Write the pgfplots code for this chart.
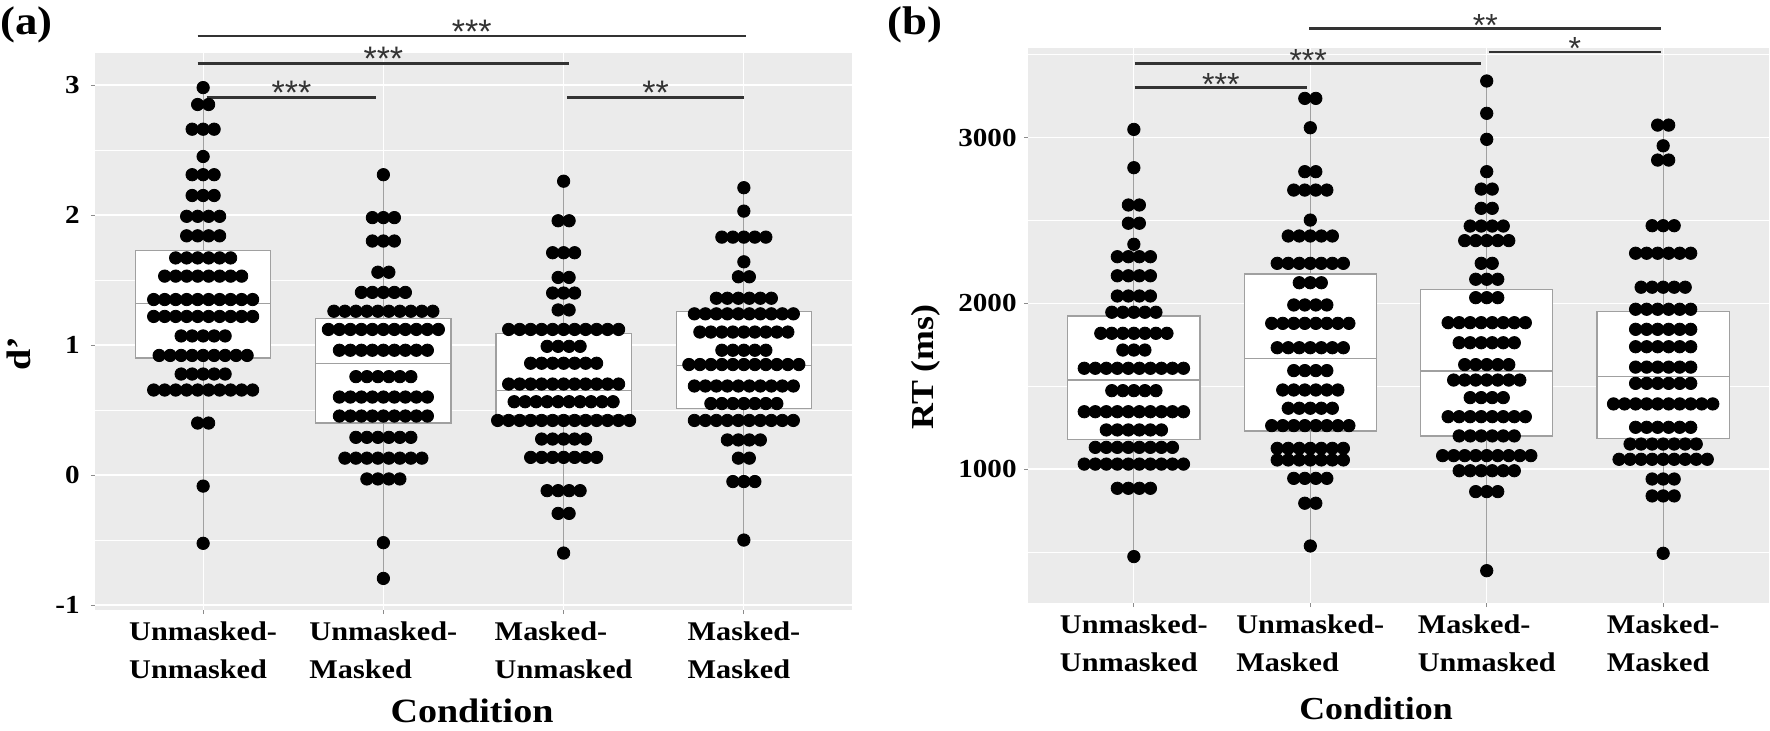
\documentclass[border=0pt]{standalone}
\usepackage{fontspec}
\setmainfont{Liberation Serif}[FakeStretch=1.12]
\newfontfamily\starfont{Liberation Sans}
\usepackage{pgfplots}
\pgfplotsset{compat=1.18}
\usepackage{pgfplotstable}

\definecolor{panel}{HTML}{EBEBEB}
\definecolor{boxline}{HTML}{A0A0A0}
\definecolor{sigline}{HTML}{333333}

\pgfplotsset{
  ggpanel/.style={
    scale only axis, anchor=south west, clip=false,
    xmin=0.4, xmax=4.6, xtick={1,2,3,4},
    xticklabels={{Unmasked-\\Unmasked},{Unmasked-\\Masked},{Masked-\\Unmasked},{Masked-\\Masked}},
    axis background/.style={fill=panel},
    axis line style={draw=none},
    grid=both, minor x tick num=0,
    major grid style={white, line width=0.6pt},
    minor grid style={white, line width=0.3pt},
    tick align=outside, major tick length=2pt, minor tick length=0pt,
    tick style={black!45, line width=0.5pt},
    xtick pos=bottom, ytick pos=left,
    x tick label style={font=\bfseries\fontsize{13.5}{19}\selectfont, align=left, anchor=north, inner sep=0pt, yshift=-3.5pt},
    y tick label style={font=\bfseries\fontsize{13}{15}\selectfont, anchor=east, inner sep=0pt},
  },
  dots/.style={only marks, mark=*, mark size=3.1pt, mark options={draw=black, fill=black}},
  bx/.style={draw=boxline, line width=0.6pt, solid, mark=none},
  sig/.style={draw=sigline, line width=1.3pt, mark=none},
}
\tikzset{
  stars/.style={anchor=base, inner sep=0pt, text=sigline, font=\starfont\fontsize{17}{17}\selectfont},
}

% d' : offset k (in dot widths) and value v
\pgfplotstableread[row sep=\\]{
k v\\
0 2.98\\
-0.5 2.85\\ 0.5 2.85\\
-1 2.66\\ 0 2.66\\ 1 2.66\\
0 2.45\\
-1 2.31\\ 0 2.31\\ 1 2.31\\
-1 2.15\\ 0 2.15\\ 1 2.15\\
-1.5 1.99\\ -0.5 1.99\\ 0.5 1.99\\ 1.5 1.99\\
-1.5 1.84\\ -0.5 1.84\\ 0.5 1.84\\ 1.5 1.84\\
-2.5 1.67\\ -1.5 1.67\\ -0.5 1.67\\ 0.5 1.67\\ 1.5 1.67\\ 2.5 1.67\\
-3.5 1.53\\ -2.5 1.53\\ -1.5 1.53\\ -0.5 1.53\\ 0.5 1.53\\ 1.5 1.53\\ 2.5 1.53\\ 3.5 1.53\\
-4.5 1.35\\ -3.5 1.35\\ -2.5 1.35\\ -1.5 1.35\\ -0.5 1.35\\ 0.5 1.35\\ 1.5 1.35\\ 2.5 1.35\\ 3.5 1.35\\ 4.5 1.35\\
-4.5 1.22\\ -3.5 1.22\\ -2.5 1.22\\ -1.5 1.22\\ -0.5 1.22\\ 0.5 1.22\\ 1.5 1.22\\ 2.5 1.22\\ 3.5 1.22\\ 4.5 1.22\\
-2 1.07\\ -1 1.07\\ 0 1.07\\ 1 1.07\\ 2 1.07\\
-4 0.92\\ -3 0.92\\ -2 0.92\\ -1 0.92\\ 0 0.92\\ 1 0.92\\ 2 0.92\\ 3 0.92\\ 4 0.92\\
-2 0.777\\ -1 0.777\\ 0 0.777\\ 1 0.777\\ 2 0.777\\
-4.5 0.654\\ -3.5 0.654\\ -2.5 0.654\\ -1.5 0.654\\ -0.5 0.654\\ 0.5 0.654\\ 1.5 0.654\\ 2.5 0.654\\ 3.5 0.654\\ 4.5 0.654\\
-0.5 0.40\\ 0.5 0.40\\
0 -0.085\\
0 -0.525\\
}\daA

\pgfplotstableread[row sep=\\]{
k v\\
0 2.31\\
-1 1.98\\ 0 1.98\\ 1 1.98\\
-1 1.80\\ 0 1.80\\ 1 1.80\\
-0.5 1.56\\ 0.5 1.56\\
-2 1.405\\ -1 1.405\\ 0 1.405\\ 1 1.405\\ 2 1.405\\
-4.5 1.26\\ -3.5 1.26\\ -2.5 1.26\\ -1.5 1.26\\ -0.5 1.26\\ 0.5 1.26\\ 1.5 1.26\\ 2.5 1.26\\ 3.5 1.26\\ 4.5 1.26\\
-5 1.12\\ -4 1.12\\ -3 1.12\\ -2 1.12\\ -1 1.12\\ 0 1.12\\ 1 1.12\\ 2 1.12\\ 3 1.12\\ 4 1.12\\ 5 1.12\\
-4 0.96\\ -3 0.96\\ -2 0.96\\ -1 0.96\\ 0 0.96\\ 1 0.96\\ 2 0.96\\ 3 0.96\\ 4 0.96\\
-2.5 0.757\\ -1.5 0.757\\ -0.5 0.757\\ 0.5 0.757\\ 1.5 0.757\\ 2.5 0.757\\
-4 0.60\\ -3 0.60\\ -2 0.60\\ -1 0.60\\ 0 0.60\\ 1 0.60\\ 2 0.60\\ 3 0.60\\ 4 0.60\\
-4 0.454\\ -3 0.454\\ -2 0.454\\ -1 0.454\\ 0 0.454\\ 1 0.454\\ 2 0.454\\ 3 0.454\\ 4 0.454\\
-2.5 0.29\\ -1.5 0.29\\ -0.5 0.29\\ 0.5 0.29\\ 1.5 0.29\\ 2.5 0.29\\
-3.5 0.13\\ -2.5 0.13\\ -1.5 0.13\\ -0.5 0.13\\ 0.5 0.13\\ 1.5 0.13\\ 2.5 0.13\\ 3.5 0.13\\
-1.5 -0.03\\ -0.5 -0.03\\ 0.5 -0.03\\ 1.5 -0.03\\
0 -0.52\\
0 -0.795\\
}\daB

\pgfplotstableread[row sep=\\]{
k v\\
0 2.26\\
-0.5 1.956\\ 0.5 1.956\\
-1 1.71\\ 0 1.71\\ 1 1.71\\
-0.5 1.52\\ 0.5 1.52\\
-1 1.40\\ 0 1.40\\ 1 1.40\\
-0.5 1.27\\ 0.5 1.27\\
-5 1.12\\ -4 1.12\\ -3 1.12\\ -2 1.12\\ -1 1.12\\ 0 1.12\\ 1 1.12\\ 2 1.12\\ 3 1.12\\ 4 1.12\\ 5 1.12\\
-1.5 0.99\\ -0.5 0.99\\ 0.5 0.99\\ 1.5 0.99\\
-3 0.86\\ -2 0.86\\ -1 0.86\\ 0 0.86\\ 1 0.86\\ 2 0.86\\ 3 0.86\\
-5 0.70\\ -4 0.70\\ -3 0.70\\ -2 0.70\\ -1 0.70\\ 0 0.70\\ 1 0.70\\ 2 0.70\\ 3 0.70\\ 4 0.70\\ 5 0.70\\
-4.5 0.564\\ -3.5 0.564\\ -2.5 0.564\\ -1.5 0.564\\ -0.5 0.564\\ 0.5 0.564\\ 1.5 0.564\\ 2.5 0.564\\ 3.5 0.564\\ 4.5 0.564\\
-6 0.42\\ -5 0.42\\ -4 0.42\\ -3 0.42\\ -2 0.42\\ -1 0.42\\ 0 0.42\\ 1 0.42\\ 2 0.42\\ 3 0.42\\ 4 0.42\\ 5 0.42\\ 6 0.42\\
-2 0.277\\ -1 0.277\\ 0 0.277\\ 1 0.277\\ 2 0.277\\
-3 0.136\\ -2 0.136\\ -1 0.136\\ 0 0.136\\ 1 0.136\\ 2 0.136\\ 3 0.136\\
-1.5 -0.12\\ -0.5 -0.12\\ 0.5 -0.12\\ 1.5 -0.12\\
-0.5 -0.295\\ 0.5 -0.295\\
0 -0.60\\
}\daC

\pgfplotstableread[row sep=\\]{
k v\\
0 2.21\\
0 2.03\\
-2 1.83\\ -1 1.83\\ 0 1.83\\ 1 1.83\\ 2 1.83\\
0 1.64\\
-0.5 1.525\\ 0.5 1.525\\
-2.5 1.36\\ -1.5 1.36\\ -0.5 1.36\\ 0.5 1.36\\ 1.5 1.36\\ 2.5 1.36\\
-4.5 1.24\\ -3.5 1.24\\ -2.5 1.24\\ -1.5 1.24\\ -0.5 1.24\\ 0.5 1.24\\ 1.5 1.24\\ 2.5 1.24\\ 3.5 1.24\\ 4.5 1.24\\
-4 1.10\\ -3 1.10\\ -2 1.10\\ -1 1.10\\ 0 1.10\\ 1 1.10\\ 2 1.10\\ 3 1.10\\ 4 1.10\\
-2 0.96\\ -1 0.96\\ 0 0.96\\ 1 0.96\\ 2 0.96\\
-5 0.85\\ -4 0.85\\ -3 0.85\\ -2 0.85\\ -1 0.85\\ 0 0.85\\ 1 0.85\\ 2 0.85\\ 3 0.85\\ 4 0.85\\ 5 0.85\\
-4.5 0.685\\ -3.5 0.685\\ -2.5 0.685\\ -1.5 0.685\\ -0.5 0.685\\ 0.5 0.685\\ 1.5 0.685\\ 2.5 0.685\\ 3.5 0.685\\ 4.5 0.685\\
-3 0.55\\ -2 0.55\\ -1 0.55\\ 0 0.55\\ 1 0.55\\ 2 0.55\\ 3 0.55\\
-4.5 0.42\\ -3.5 0.42\\ -2.5 0.42\\ -1.5 0.42\\ -0.5 0.42\\ 0.5 0.42\\ 1.5 0.42\\ 2.5 0.42\\ 3.5 0.42\\ 4.5 0.42\\
-1.5 0.27\\ -0.5 0.27\\ 0.5 0.27\\ 1.5 0.27\\
-0.5 0.13\\ 0.5 0.13\\
-1 -0.05\\ 0 -0.05\\ 1 -0.05\\
0 -0.50\\
}\daD

% RT (ms)
\pgfplotstableread[row sep=\\]{
k v\\
0 3049\\
0 2818\\
-0.5 2593\\ 0.5 2593\\
-0.5 2483\\ 0.5 2483\\
0 2356\\
-1.5 2281\\ -0.5 2281\\ 0.5 2281\\ 1.5 2281\\
-1.5 2166\\ -0.5 2166\\ 0.5 2166\\ 1.5 2166\\
-1.5 2044\\ -0.5 2044\\ 0.5 2044\\ 1.5 2044\\
-2 1946\\ -1 1946\\ 0 1946\\ 1 1946\\ 2 1946\\
-3 1819\\ -2 1819\\ -1 1819\\ 0 1819\\ 1 1819\\ 2 1819\\ 3 1819\\
-1 1718\\ 0 1718\\ 1 1718\\
-4.5 1608\\ -3.5 1608\\ -2.5 1608\\ -1.5 1608\\ -0.5 1608\\ 0.5 1608\\ 1.5 1608\\ 2.5 1608\\ 3.5 1608\\ 4.5 1608\\
-2 1473\\ -1 1473\\ 0 1473\\ 1 1473\\ 2 1473\\
-4.5 1346\\ -3.5 1346\\ -2.5 1346\\ -1.5 1346\\ -0.5 1346\\ 0.5 1346\\ 1.5 1346\\ 2.5 1346\\ 3.5 1346\\ 4.5 1346\\
-2.5 1236\\ -1.5 1236\\ -0.5 1236\\ 0.5 1236\\ 1.5 1236\\ 2.5 1236\\
-3.5 1131\\ -2.5 1131\\ -1.5 1131\\ -0.5 1131\\ 0.5 1131\\ 1.5 1131\\ 2.5 1131\\ 3.5 1131\\
-4.5 1030\\ -3.5 1030\\ -2.5 1030\\ -1.5 1030\\ -0.5 1030\\ 0.5 1030\\ 1.5 1030\\ 2.5 1030\\ 3.5 1030\\ 4.5 1030\\
-1.5 884\\ -0.5 884\\ 0.5 884\\ 1.5 884\\
0 472\\
}\dbA

\pgfplotstableread[row sep=\\]{
k v\\
-0.5 3236\\ 0.5 3236\\
0 3059\\
-0.5 2794\\ 0.5 2794\\
-1.5 2683\\ -0.5 2683\\ 0.5 2683\\ 1.5 2683\\
0 2502\\
-2 2406\\ -1 2406\\ 0 2406\\ 1 2406\\ 2 2406\\
-3 2241\\ -2 2241\\ -1 2241\\ 0 2241\\ 1 2241\\ 2 2241\\ 3 2241\\
-1 2124\\ 0 2124\\ 1 2124\\
-1.5 1990\\ -0.5 1990\\ 0.5 1990\\ 1.5 1990\\
-3.5 1879\\ -2.5 1879\\ -1.5 1879\\ -0.5 1879\\ 0.5 1879\\ 1.5 1879\\ 2.5 1879\\ 3.5 1879\\
-3 1732\\ -2 1732\\ -1 1732\\ 0 1732\\ 1 1732\\ 2 1732\\ 3 1732\\
-1.5 1594\\ -0.5 1594\\ 0.5 1594\\ 1.5 1594\\
-2.5 1477\\ -1.5 1477\\ -0.5 1477\\ 0.5 1477\\ 1.5 1477\\ 2.5 1477\\
-2 1367\\ -1 1367\\ 0 1367\\ 1 1367\\ 2 1367\\
-3.5 1262\\ -2.5 1262\\ -1.5 1262\\ -0.5 1262\\ 0.5 1262\\ 1.5 1262\\ 2.5 1262\\ 3.5 1262\\
-3 1125\\ -2 1125\\ -1 1125\\ 0 1125\\ 1 1125\\ 2 1125\\ 3 1125\\
-3 1055\\ -2 1055\\ -1 1055\\ 0 1055\\ 1 1055\\ 2 1055\\ 3 1055\\
-1.5 944\\ -0.5 944\\ 0.5 944\\ 1.5 944\\
-0.5 794\\ 0.5 794\\
0 536\\
}\dbB

\pgfplotstableread[row sep=\\]{
k v\\
0 3341\\
0 3146\\
0 2989\\
0 2794\\
-0.5 2689\\ 0.5 2689\\
-0.5 2573\\ 0.5 2573\\
-1.5 2466\\ -0.5 2466\\ 0.5 2466\\ 1.5 2466\\
-2 2378\\ -1 2378\\ 0 2378\\ 1 2378\\ 2 2378\\
-0.5 2241\\ 0.5 2241\\
-1 2145\\ 0 2145\\ 1 2145\\
-1 2034\\ 0 2034\\ 1 2034\\
-3.5 1883\\ -2.5 1883\\ -1.5 1883\\ -0.5 1883\\ 0.5 1883\\ 1.5 1883\\ 2.5 1883\\ 3.5 1883\\
-2.5 1762\\ -1.5 1762\\ -0.5 1762\\ 0.5 1762\\ 1.5 1762\\ 2.5 1762\\
-2 1630\\ -1 1630\\ 0 1630\\ 1 1630\\ 2 1630\\
-3 1537\\ -2 1537\\ -1 1537\\ 0 1537\\ 1 1537\\ 2 1537\\ 3 1537\\
-1.5 1431\\ -0.5 1431\\ 0.5 1431\\ 1.5 1431\\
-3.5 1316\\ -2.5 1316\\ -1.5 1316\\ -0.5 1316\\ 0.5 1316\\ 1.5 1316\\ 2.5 1316\\ 3.5 1316\\
-2.5 1200\\ -1.5 1200\\ -0.5 1200\\ 0.5 1200\\ 1.5 1200\\ 2.5 1200\\
-4 1081\\ -3 1081\\ -2 1081\\ -1 1081\\ 0 1081\\ 1 1081\\ 2 1081\\ 3 1081\\ 4 1081\\
-2.5 990\\ -1.5 990\\ -0.5 990\\ 0.5 990\\ 1.5 990\\ 2.5 990\\
-1 864\\ 0 864\\ 1 864\\
0 387\\
}\dbC

\pgfplotstableread[row sep=\\]{
k v\\
-0.5 3075\\ 0.5 3075\\
0 2950\\
-0.5 2864\\ 0.5 2864\\
-1 2468\\ 0 2468\\ 1 2468\\
-2.5 2302\\ -1.5 2302\\ -0.5 2302\\ 0.5 2302\\ 1.5 2302\\ 2.5 2302\\
-2 2097\\ -1 2097\\ 0 2097\\ 1 2097\\ 2 2097\\
-2.5 1964\\ -1.5 1964\\ -0.5 1964\\ 0.5 1964\\ 1.5 1964\\ 2.5 1964\\
-2.5 1843\\ -1.5 1843\\ -0.5 1843\\ 0.5 1843\\ 1.5 1843\\ 2.5 1843\\
-2.5 1738\\ -1.5 1738\\ -0.5 1738\\ 0.5 1738\\ 1.5 1738\\ 2.5 1738\\
-2.5 1615\\ -1.5 1615\\ -0.5 1615\\ 0.5 1615\\ 1.5 1615\\ 2.5 1615\\
-2.5 1517\\ -1.5 1517\\ -0.5 1517\\ 0.5 1517\\ 1.5 1517\\ 2.5 1517\\
-4.5 1393\\ -3.5 1393\\ -2.5 1393\\ -1.5 1393\\ -0.5 1393\\ 0.5 1393\\ 1.5 1393\\ 2.5 1393\\ 3.5 1393\\ 4.5 1393\\
-2.5 1252\\ -1.5 1252\\ -0.5 1252\\ 0.5 1252\\ 1.5 1252\\ 2.5 1252\\
-3 1151\\ -2 1151\\ -1 1151\\ 0 1151\\ 1 1151\\ 2 1151\\ 3 1151\\
-4 1059\\ -3 1059\\ -2 1059\\ -1 1059\\ 0 1059\\ 1 1059\\ 2 1059\\ 3 1059\\ 4 1059\\
-1 940\\ 0 940\\ 1 940\\
-1 838\\ 0 838\\ 1 838\\
0 492\\
}\dbD

\begin{document}
\begin{tikzpicture}
\path[use as bounding box] (0pt,0pt) rectangle (885pt,-365pt);

% ---- (a) d'
\begin{axis}[ggpanel,
  at={(47.5pt,-305pt)}, width=378.5pt, height=278.5pt,
  ymin=-1.038, ymax=3.246,
  ytick={-1,0,1,2,3}, yticklabels={-1,0,1,2,3},
  minor ytick={-0.5,0.5,1.5,2.5},
  y tick label style={xshift=-5.5pt}]
% whiskers, boxes (width 0.75), medians
\addplot[bx] coordinates {(1,-0.525) (1,2.98)};
\addplot[bx] coordinates {(2,-0.795) (2,2.31)};
\addplot[bx] coordinates {(3,-0.60) (3,2.26)};
\addplot[bx] coordinates {(4,-0.50) (4,2.21)};
\addplot[bx, fill=white] coordinates {(0.625,0.90) (1.375,0.90) (1.375,1.73) (0.625,1.73)} -- cycle;
\addplot[bx, fill=white] coordinates {(1.625,0.40) (2.375,0.40) (2.375,1.205) (1.625,1.205)} -- cycle;
\addplot[bx, fill=white] coordinates {(2.625,0.46) (3.375,0.46) (3.375,1.09) (2.625,1.09)} -- cycle;
\addplot[bx, fill=white] coordinates {(3.625,0.51) (4.375,0.51) (4.375,1.255) (3.625,1.255)} -- cycle;
\addplot[bx] coordinates {(0.625,1.32) (1.375,1.32)};
\addplot[bx] coordinates {(1.625,0.86) (2.375,0.86)};
\addplot[bx] coordinates {(2.625,0.648) (3.375,0.648)};
\addplot[bx] coordinates {(3.625,0.845) (4.375,0.845)};
% dots
\addplot[dots] table[x expr=1+0.061*\thisrow{k}, y=v] {\daA};
\addplot[dots] table[x expr=2+0.061*\thisrow{k}, y=v] {\daB};
\addplot[dots] table[x expr=3+0.061*\thisrow{k}, y=v] {\daC};
\addplot[dots] table[x expr=4+0.061*\thisrow{k}, y=v] {\daD};
% significance bars
\addplot[sig] coordinates {(0.97,3.377) (4.01,3.377)} node[stars, pos=0.5, yshift=-3.6pt] {***};
\addplot[sig] coordinates {(0.97,3.167) (3.03,3.167)} node[stars, pos=0.5, yshift=-3.6pt] {***};
\addplot[sig] coordinates {(1.02,2.902) (1.96,2.902)} node[stars, pos=0.5, yshift=-3.6pt] {***};
\addplot[sig] coordinates {(3.02,2.902) (4.00,2.902)} node[stars, pos=0.5, yshift=-3.6pt] {**};
\end{axis}

% ---- (b) RT
\begin{axis}[ggpanel,
  at={(514pt,-301.5pt)}, width=370.5pt, height=277.5pt,
  ymin=192, ymax=3540,
  ytick={1000,2000,3000}, yticklabels={1000,2000,3000},
  minor ytick={500,1500,2500,3500},
  y tick label style={xshift=-3.5pt}]
\addplot[bx] coordinates {(1,472) (1,3049)};
\addplot[bx] coordinates {(2,536) (2,3236)};
\addplot[bx] coordinates {(3,387) (3,3341)};
\addplot[bx] coordinates {(4,492) (4,3075)};
\addplot[bx, fill=white] coordinates {(0.625,1176) (1.375,1176) (1.375,1923) (0.625,1923)} -- cycle;
\addplot[bx, fill=white] coordinates {(1.625,1230) (2.375,1230) (2.375,2177) (1.625,2177)} -- cycle;
\addplot[bx, fill=white] coordinates {(2.625,1200) (3.375,1200) (3.375,2084) (2.625,2084)} -- cycle;
\addplot[bx, fill=white] coordinates {(3.625,1186) (4.375,1186) (4.375,1949) (3.625,1949)} -- cycle;
\addplot[bx] coordinates {(0.625,1537) (1.375,1537)};
\addplot[bx] coordinates {(1.625,1668) (2.375,1668)};
\addplot[bx] coordinates {(2.625,1592) (3.375,1592)};
\addplot[bx] coordinates {(3.625,1557) (4.375,1557)};
\addplot[dots] table[x expr=1+0.0625*\thisrow{k}, y=v] {\dbA};
\addplot[dots] table[x expr=2+0.0625*\thisrow{k}, y=v] {\dbB};
\addplot[dots] table[x expr=3+0.0625*\thisrow{k}, y=v] {\dbC};
\addplot[dots] table[x expr=4+0.0625*\thisrow{k}, y=v] {\dbD};
\addplot[sig] coordinates {(1.006,3300) (1.98,3300)} node[stars, pos=0.5, yshift=-4pt, font=\starfont\fontsize{16}{16}\selectfont] {***};
\addplot[sig] coordinates {(1.006,3447) (2.97,3447)} node[stars, pos=0.5, yshift=-4pt, font=\starfont\fontsize{16}{16}\selectfont] {***};
\addplot[sig] coordinates {(1.994,3659) (3.99,3659)} node[stars, pos=0.5, yshift=-4pt, font=\starfont\fontsize{16}{16}\selectfont] {**};
\addplot[sig] coordinates {(3.01,3517) (3.99,3517)} node[stars, pos=0.5, yshift=-4pt, font=\starfont\fontsize{16}{16}\selectfont] {*};
\end{axis}

% ---- titles and axis labels (coordinates in reference pixels)
\begin{scope}[x=0.5pt, y=-0.5pt]
\node[anchor=base west, inner sep=0pt, font=\bfseries\fontsize{20}{20}\selectfont] at (0,34) {(a)};
\node[anchor=base west, inner sep=0pt, font=\bfseries\fontsize{20}{20}\selectfont] at (887,34) {(b)};
\node[anchor=base, inner sep=0pt, font=\bfseries\fontsize{17}{17}\selectfont] at (472,722) {Condition};
\node[anchor=base, inner sep=0pt, font=\bfseries\fontsize{16}{16}\selectfont] at (1376,719) {Condition};
\node[anchor=base, rotate=90, inner sep=0pt, font=\bfseries\fontsize{17}{17}\selectfont] at (31,354) {d’};
\node[anchor=base, rotate=90, inner sep=0pt, font=\bfseries\fontsize{16}{16}\selectfont] at (933,367) {RT (ms)};
\end{scope}
\end{tikzpicture}
\end{document}
